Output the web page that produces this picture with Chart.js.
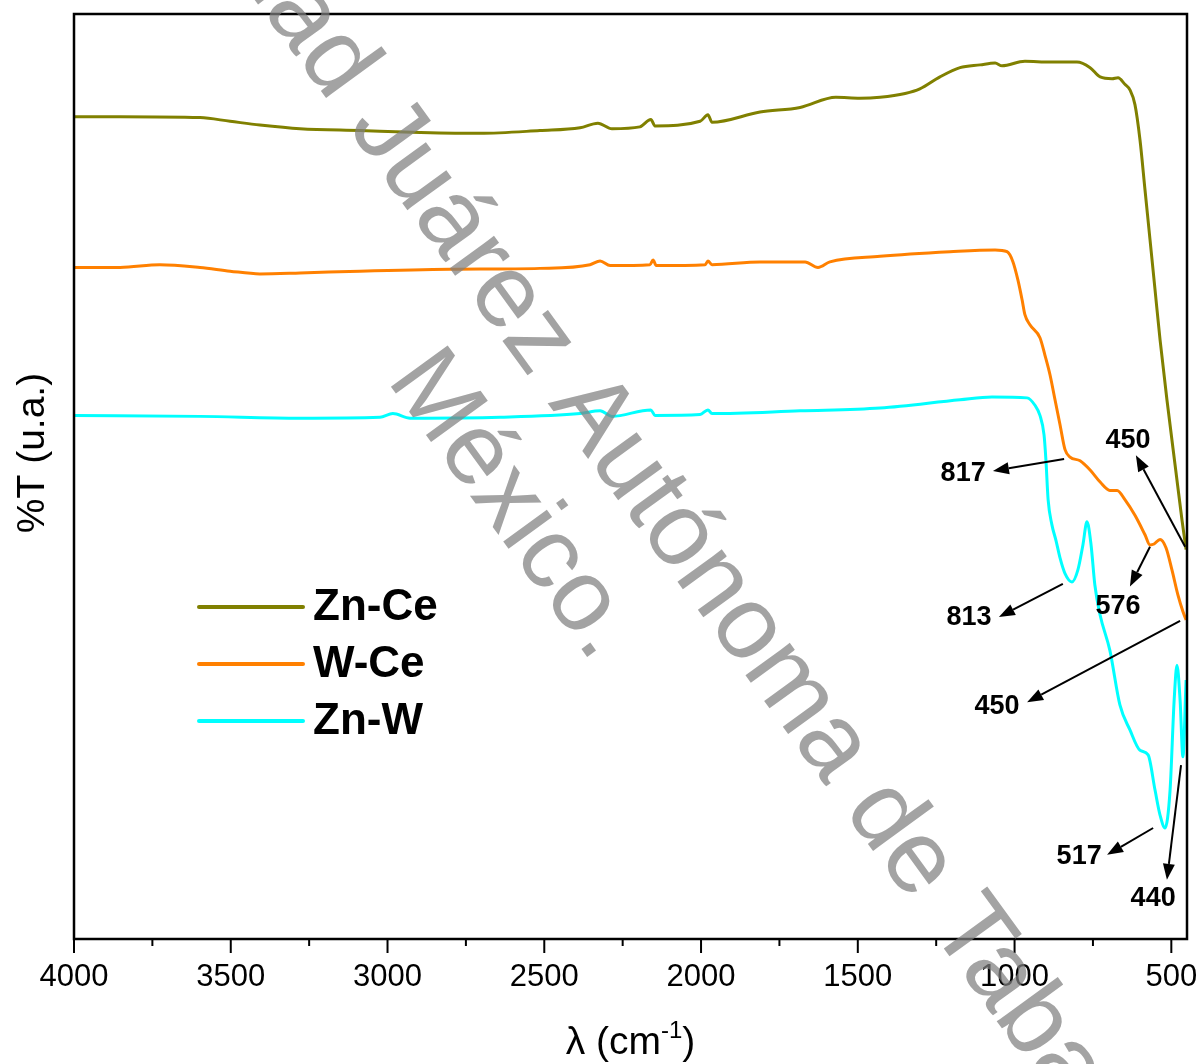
<!DOCTYPE html>
<html lang="es">
<head>
    <meta charset="UTF-8">
    <title>FTIR Zn-Ce / W-Ce / Zn-W</title>
    <script src="https://cdn.jsdelivr.net/npm/chart.js"></script>
    <style>
        html, body { margin: 0; padding: 0; background: #fff; }
    </style>
</head>
<body>
    <canvas id="ftir" width="1201" height="1064"></canvas>

    <script>
        // Espectros (cm-1 vs %T, unidades arbitrarias)
        const znCeX = [4000,3853,3598,3502,3407,3279,3088,2896,2705,2514,2386,2329,2284,2195,2160,2147,2003,1978,1965,1812,1684,1570,1493,1429,1349,1302,1238,1174,1110,1062,1040,967,887,801,759,727,689,670,648,632,616,600,584,568,552,536,514,486,466,453];
        const znCeY = [88.9,88.9,88.8,88.4,88.0,87.6,87.4,87.2,87.1,87.4,87.7,88.2,87.6,87.8,88.6,87.9,88.4,89.1,88.3,89.4,89.9,91.0,90.9,91.0,91.4,91.9,93.2,94.2,94.5,94.7,94.4,94.9,94.8,94.8,94.2,93.2,93.0,93.1,92.4,91.8,90.2,86.4,81.0,75.6,70.2,64.8,58.3,50.7,45.3,42.1];

        const wCeX = [4000,3853,3726,3598,3502,3407,3279,3088,2801,2514,2354,2322,2290,2163,2153,2143,1987,1978,1965,1812,1668,1627,1589,1429,1206,1062,1024,1005,989,976,967,951,919,903,887,871,855,839,823,791,759,727,696,673,648,616,584,568,555,536,517,498,479,463,453];
        const wCeY = [72.6,72.6,72.9,72.6,72.2,71.9,72.0,72.2,72.4,72.5,72.9,73.3,72.8,72.9,73.4,72.8,72.9,73.3,72.9,73.2,73.2,72.6,73.2,73.8,74.3,74.5,74.3,73.2,71.2,69.1,67.5,66.4,65.0,63.1,61.0,58.3,55.6,52.9,52.1,51.7,50.7,49.4,48.5,48.5,47.5,45.8,43.7,42.6,42.7,43.2,42.3,39.9,37.2,35.4,34.5];

        const znWX = [4000,3598,3279,3024,2983,2928,2641,2386,2322,2284,2160,2147,2003,1978,1965,1684,1429,1174,1072,960,935,919,906,900,893,881,868,855,839,817,798,782,769,756,744,727,696,664,632,600,574,552,536,520,504,491,482,472,463,453];
        const znWY = [56.6,56.5,56.3,56.4,56.8,56.3,56.4,56.8,57.1,56.5,57.2,56.6,56.7,57.2,56.8,57.1,57.4,58.3,58.6,58.5,57.7,56.6,54.5,51.8,47.5,44.8,43.1,41.2,39.5,38.6,39.9,42.6,45.1,42.6,38.3,35.0,31.2,25.3,22.6,20.4,19.9,16.1,13.4,12.0,16.1,25.8,29.6,25.8,19.7,28.0];

        const seriesNames = ['Zn-Ce', 'W-Ce', 'Zn-W'];
        const seriesColors = ['#808000', '#FF8000', '#00FFFF'];

        // Marcas del eje x (las de 500 en 500 llevan numero)
        const xTicks = [4000,3750,3500,3250,3000,2750,2500,2250,2000,1750,1500,1250,1000,750,500];

        // Anotaciones de bandas: texto y flecha (en cm-1 / %T)
        const bandLabels = ['817', '450', '813', '576', '450', '517', '440'];
        const bandTextX  = [1164, 638, 1145, 670, 1056, 794, 558];
        const bandTextY  = [50.3, 53.9, 34.8, 35.9, 25.1, 8.9, 4.4];
        const arrowFromX = [842, 456, 846, 568, 472, 558, 469];
        const arrowFromY = [51.9, 42.4, 38.4, 42.4, 34.4, 12.0, 18.8];
        const arrowToX   = [1069, 613, 1050, 632, 960, 705, 514];
        const arrowToY   = [50.6, 52.3, 34.8, 38.1, 25.6, 9.1, 6.4];

        const FONT = '"Liberation Sans", Arial, sans-serif';

        const pairs = (xs, ys) => xs.map((x, i) => ({ x: x, y: ys[i] }));

        function arrow(ctx, x1, y1, x2, y2) {
            const a = Math.atan2(y2 - y1, x2 - x1);
            const head = 16, half = 6;
            const bx = x2 - head * Math.cos(a), by = y2 - head * Math.sin(a);
            ctx.beginPath();
            ctx.moveTo(x1, y1);
            ctx.lineTo(bx, by);
            ctx.stroke();
            ctx.beginPath();
            ctx.moveTo(x2, y2);
            ctx.lineTo(bx + half * Math.sin(a), by - half * Math.cos(a));
            ctx.lineTo(bx - half * Math.sin(a), by + half * Math.cos(a));
            ctx.closePath();
            ctx.fill();
        }

        const decor = {
            id: 'decor',
            afterDatasetsDraw(chart) {
                const { ctx, chartArea: a, scales: { x, y } } = chart;
                ctx.save();
                // marco
                ctx.strokeStyle = '#000';
                ctx.lineWidth = 2.5;
                ctx.strokeRect(a.left, a.top, a.right - a.left, a.bottom - a.top);
                // marcas del eje x
                ctx.lineWidth = 2;
                x.ticks.forEach(t => {
                    const px = x.getPixelForValue(t.value);
                    const len = t.value % 500 === 0 ? 14 : 7;
                    ctx.beginPath();
                    ctx.moveTo(px, a.bottom);
                    ctx.lineTo(px, a.bottom + len);
                    ctx.stroke();
                });

                // leyenda
                ctx.font = 'bold 44px ' + FONT;
                ctx.textBaseline = 'middle';
                ctx.textAlign = 'left';
                chart.data.datasets.forEach((ds, i) => {
                    const ly = 607 + i * 57;
                    ctx.strokeStyle = ds.borderColor;
                    ctx.lineWidth = 4;
                    ctx.lineCap = 'round';
                    ctx.beginPath();
                    ctx.moveTo(199, ly);
                    ctx.lineTo(303, ly);
                    ctx.stroke();
                    ctx.fillStyle = '#000';
                    ctx.fillText(ds.label, 313, ly + 1);
                });

                // bandas
                ctx.lineCap = 'butt';
                ctx.strokeStyle = '#000';
                ctx.fillStyle = '#000';
                ctx.lineWidth = 2;
                ctx.font = 'bold 27px ' + FONT;
                ctx.textAlign = 'center';
                bandLabels.forEach((lab, i) => {
                    arrow(ctx,
                        x.getPixelForValue(arrowFromX[i]), y.getPixelForValue(arrowFromY[i]),
                        x.getPixelForValue(arrowToX[i]), y.getPixelForValue(arrowToY[i]));
                    ctx.fillText(lab, x.getPixelForValue(bandTextX[i]), y.getPixelForValue(bandTextY[i]));
                });

                // titulos de ejes
                ctx.font = '39px ' + FONT;
                ctx.textBaseline = 'alphabetic';
                ctx.textAlign = 'left';
                const t1 = '\u03bb (cm', sup = '-1', t2 = ')';
                const w1 = ctx.measureText(t1).width, w3 = ctx.measureText(t2).width;
                ctx.font = '24px ' + FONT;
                const w2 = ctx.measureText(sup).width;
                const tx = (a.left + a.right) / 2 - (w1 + w2 + w3) / 2;
                const ty = 1054;
                ctx.font = '39px ' + FONT;
                ctx.fillText(t1, tx, ty);
                ctx.font = '24px ' + FONT;
                ctx.fillText(sup, tx + w1, ty - 16);
                ctx.font = '39px ' + FONT;
                ctx.fillText(t2, tx + w1 + w2, ty);

                ctx.translate(33, 453);
                ctx.rotate(-Math.PI / 2);
                ctx.textAlign = 'center';
                ctx.textBaseline = 'middle';
                ctx.fillText('%T (u.a.)', 0, 0);
                ctx.restore();
            },
            afterDraw(chart) {
                // marca de agua
                const ctx = chart.ctx;
                const ang = 54 * Math.PI / 180;
                ctx.save();
                ctx.fillStyle = 'rgba(128,128,128,0.72)';
                ctx.font = '104px ' + FONT;
                ctx.textBaseline = 'alphabetic';
                ctx.textAlign = 'left';
                ctx.translate(262, 10);
                ctx.rotate(ang);
                const pre = ctx.measureText('Universid').width;
                ctx.fillText('Universidad Juárez Autónoma de Tabasco', -pre, 0);
                ctx.restore();
                ctx.save();
                ctx.fillStyle = 'rgba(128,128,128,0.72)';
                ctx.font = '102px ' + FONT;
                ctx.translate(386, 380);
                ctx.rotate(ang);
                ctx.fillText('México.', 0, 0);
                ctx.restore();
            }
        };

        const xs = [znCeX, wCeX, znWX];
        const ys = [znCeY, wCeY, znWY];

        const chart = new Chart(document.getElementById('ftir'), {
            type: 'line',
            data: {
                datasets: seriesNames.map((name, i) => ({
                    label: name,
                    data: pairs(xs[i], ys[i]),
                    borderColor: seriesColors[i],
                    borderWidth: 3,
                    pointRadius: 0,
                    fill: false,
                    cubicInterpolationMode: 'monotone'
                }))
            },
            options: {
                responsive: false,
                animation: false,
                layout: { padding: { left: 74, right: 14, top: 14, bottom: 0 } },
                plugins: {
                    legend: { display: false },
                    tooltip: { enabled: false }
                },
                scales: {
                    x: {
                        type: 'linear',
                        reverse: true,
                        min: 450,
                        max: 4000,
                        afterBuildTicks: s => { s.ticks = xTicks.map(v => ({ value: v })); },
                        afterFit: s => {
                            s.height = 125;
                            s.paddingLeft = 0;
                            s.paddingRight = 0;
                        },
                        grid: { display: false, drawTicks: false },
                        border: { display: false },
                        ticks: {
                            autoSkip: false,
                            maxRotation: 0,
                            padding: 20,
                            color: '#000',
                            font: { family: FONT, size: 31 },
                            callback: v => (v % 500 === 0 ? String(v) : '')
                        }
                    },
                    y: { display: false, min: 0, max: 100 }
                }
            },
            plugins: [decor]
        });
    </script>
</body>
</html>
